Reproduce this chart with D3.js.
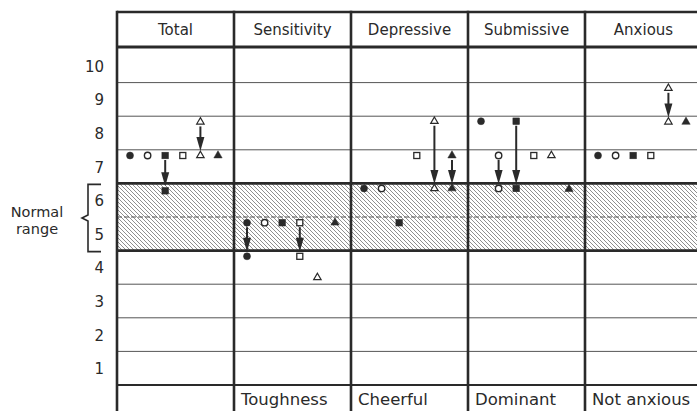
<!DOCTYPE html>
<html><head><meta charset="utf-8">
<script src="https://cdn.jsdelivr.net/npm/d3@7"></script>
<style>
body{margin:0;background:#fff}
svg{display:block}
text{font-family:"DejaVu Sans",sans-serif;fill:#2a2a2a}
</style>
</head><body>
<svg id="c" width="697" height="411"></svg>
<script>
// ---- data ----
const scales = ["Total", "Sensitivity", "Depressive", "Submissive", "Anxious"];
const poleLabels = ["", "Toughness", "Cheerful", "Dominant", "Not anxious"];
const scoreTicks = [1, 2, 3, 4, 5, 6, 7, 8, 9, 10];
const normalRange = [4.5, 6.5];
const symbolKeys = ["filledCircle", "openCircle", "filledSquare", "openSquare", "openTriangle", "filledTriangle"];
// first score per scale (Total, Sensitivity, Depressive, Submissive, Anxious)
const filledCircle   = [7.33, 5.33, 6.35, 8.35, 7.33];
const openCircle     = [7.33, 5.33, 6.35, 7.33, 7.33];
const filledSquare   = [7.33, 5.33, 5.33, 8.35, 7.33];
const openSquare     = [7.33, 5.33, 7.33, 7.33, 7.33];
const openTriangle   = [8.33, 3.7, 8.35, 7.33, 9.33];
const filledTriangle = [7.33, 5.33, 7.33, 6.33, 8.33];
// second score (arrow target) per scale, null = no change shown
const filledCircleAfter   = [null, 4.33, null, null, null];
const openCircleAfter     = [null, null, null, 6.35, null];
const filledSquareAfter   = [6.28, null, null, 6.35, null];
const openSquareAfter     = [null, 4.33, null, null, null];
const openTriangleAfter   = [7.33, null, 6.35, null, 8.33];
const filledTriangleAfter = [null, null, 6.35, null, null];

const series = [
  {key: "filledCircle",   shape: "circle",   filled: true,  v: filledCircle,   after: filledCircleAfter},
  {key: "openCircle",     shape: "circle",   filled: false, v: openCircle,     after: openCircleAfter},
  {key: "filledSquare",   shape: "square",   filled: true,  v: filledSquare,   after: filledSquareAfter},
  {key: "openSquare",     shape: "square",   filled: false, v: openSquare,     after: openSquareAfter},
  {key: "openTriangle",   shape: "triangle", filled: false, v: openTriangle,   after: openTriangleAfter},
  {key: "filledTriangle", shape: "triangle", filled: true,  v: filledTriangle, after: filledTriangleAfter}
];

// ---- layout ----
const svg = d3.select("#c");
const W = 697, H = 411;
const frameTop = 12, headBottom = 47, footTop = 385;
const ink = "#2a2a2a";

const x = d3.scaleBand().domain(scales).range([117, 702]);
const slot = d3.scalePoint().domain(symbolKeys).range([13, 101]);
const y = d3.scaleLinear().domain([0.5, 10.5]).range([footTop, 49]);

// hatch pattern
const defs = svg.append("defs");
const pat = defs.append("pattern").attr("id", "hatch").attr("patternUnits", "userSpaceOnUse")
  .attr("width", 4).attr("height", 4);
pat.append("path").attr("d", "M0,0 L4,4 M-1,3 L1,5 M3,-1 L5,1")
  .attr("stroke", "#6a6a6a").attr("stroke-width", 0.75);

const x0 = x.range()[0], x1 = x.range()[1];

// normal range hatch
svg.append("rect").attr("x", x0).attr("width", x1 - x0)
  .attr("y", y(normalRange[1])).attr("height", y(normalRange[0]) - y(normalRange[1]))
  .attr("fill", "url(#hatch)");

// grid lines at half scores
const gridVals = d3.range(1.5, 10, 1);
svg.append("g").selectAll("line").data(gridVals).join("line")
  .attr("x1", x0).attr("x2", x1).attr("y1", d => y(d)).attr("y2", d => y(d))
  .attr("stroke", d => (d === normalRange[0] || d === normalRange[1]) ? ink : "#555")
  .attr("stroke-width", d => (d === normalRange[0] || d === normalRange[1]) ? 2.6 : 1)
  .attr("stroke-dasharray", d => d === (normalRange[0] + normalRange[1]) / 2 ? "5,2" : null);

// frame lines
svg.append("line").attr("x1", x0).attr("x2", x1).attr("y1", frameTop).attr("y2", frameTop).attr("stroke", ink).attr("stroke-width", 2.6);
svg.append("line").attr("x1", x0).attr("x2", x1).attr("y1", headBottom).attr("y2", headBottom).attr("stroke", ink).attr("stroke-width", 2.8);
svg.append("line").attr("x1", x0).attr("x2", x1).attr("y1", footTop).attr("y2", footTop).attr("stroke", ink).attr("stroke-width", 2);
svg.append("g").selectAll("line").data(scales).join("line")
  .attr("x1", d => x(d)).attr("x2", d => x(d)).attr("y1", frameTop - 1.3).attr("y2", H)
  .attr("stroke", ink).attr("stroke-width", 2.6);

// header labels
svg.append("g").selectAll("text").data(scales).join("text")
  .attr("x", d => x(d) + x.bandwidth() / 2).attr("y", 35)
  .attr("text-anchor", "middle").attr("font-size", 15).text(d => d);

// footer labels
svg.append("g").selectAll("text").data(scales).join("text")
  .attr("x", d => x(d) + 7).attr("y", 405)
  .attr("font-size", 16.5).text((d, i) => poleLabels[i]);

// y axis labels
const axis = d3.axisLeft(y).tickValues(scoreTicks).tickSize(0).tickPadding(0).tickFormat(d3.format("d"));
const ag = svg.append("g").attr("transform", "translate(104,0)").call(axis);
ag.select(".domain").remove();
ag.selectAll("text").attr("font-size", 15).attr("font-family", "DejaVu Sans, sans-serif").attr("fill", ink).attr("dy", "0.36em");

// brace + normal range label
const bt = y(normalRange[1]) + 1, bb = y(normalRange[0]) + 1, bm = (bt + bb) / 2;
svg.append("path")
  .attr("d", `M101,${bt} L88,${bt} L88,${bm - 3} L82,${bm} L88,${bm + 3} L88,${bb} L101,${bb}`)
  .attr("fill", "none").attr("stroke", ink).attr("stroke-width", 1.6);
svg.append("text").attr("x", 37).attr("y", bm - 1).attr("text-anchor", "middle").attr("font-size", 14.5).text("Normal");
svg.append("text").attr("x", 37).attr("y", bm + 16).attr("text-anchor", "middle").attr("font-size", 14.5).text("range");

// arrows
const ag2 = svg.append("g");
series.forEach(s => {
  scales.forEach((sc, i) => {
    const a = s.after[i];
    if (a === null) return;
    const cx = x(sc) + slot(s.key);
    const ys = y(s.v[i]), ye = y(a);
    const dir = ye > ys ? 1 : -1;
    const tip = ye - dir * 4.5;
    ag2.append("line").attr("x1", cx).attr("x2", cx).attr("y1", ys + dir * 4.5).attr("y2", tip - dir * 6)
      .attr("stroke", ink).attr("stroke-width", 2);
    ag2.append("path")
      .attr("d", `M${cx},${tip} L${cx - 4},${tip - dir * 14} L${cx + 4},${tip - dir * 14} Z`)
      .attr("fill", ink);
  });
});

// markers
const mg = svg.append("g");
function drawMarker(s, cx, cy) {
  const fill = s.filled ? ink : "#fff";
  if (s.shape === "circle") {
    mg.append("circle").attr("cx", cx).attr("cy", cy).attr("r", s.filled ? 3.5 : 3.2)
      .attr("fill", fill).attr("stroke", ink).attr("stroke-width", s.filled ? 0.5 : 1.4);
  } else if (s.shape === "square") {
    const h = s.filled ? 3.3 : 3;
    mg.append("rect").attr("x", cx - h).attr("y", cy - h).attr("width", 2 * h).attr("height", 2 * h)
      .attr("fill", fill).attr("stroke", ink).attr("stroke-width", s.filled ? 0.5 : 1.3);
  } else {
    mg.append("path").attr("transform", `translate(${cx},${cy})`)
      .attr("d", d3.symbol(d3.symbolTriangle, s.filled ? 30 : 24)())
      .attr("fill", fill).attr("stroke", ink).attr("stroke-width", s.filled ? 0.5 : 1.2);
  }
}
series.forEach(s => {
  scales.forEach((sc, i) => {
    const cx = x(sc) + slot(s.key);
    drawMarker(s, cx, y(s.v[i]));
    if (s.after[i] !== null) drawMarker(s, cx, y(s.after[i]));
  });
});
</script>
</body></html>
